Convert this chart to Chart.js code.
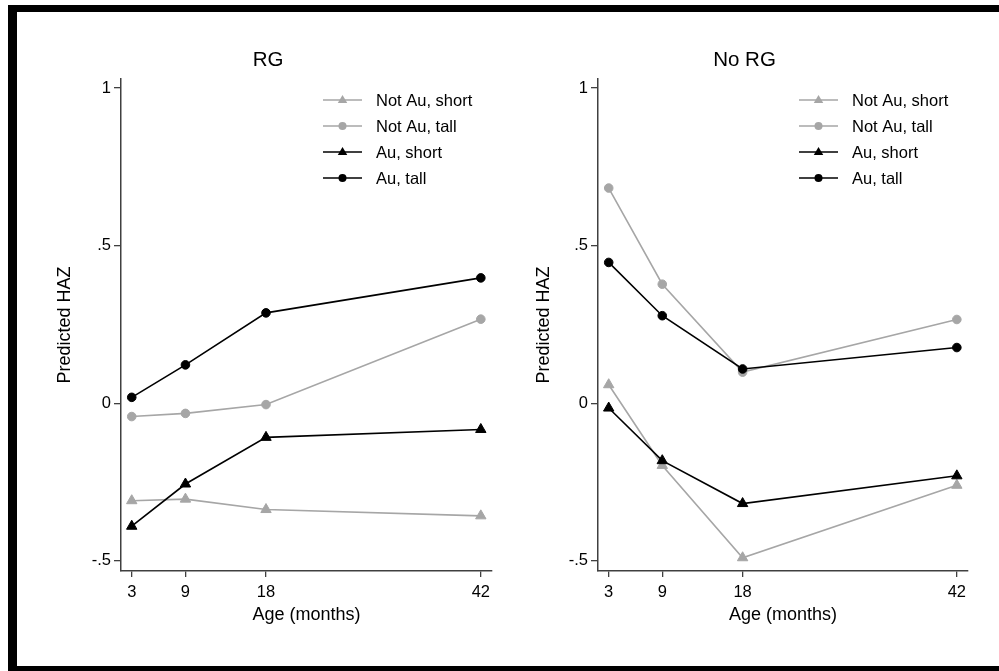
<!DOCTYPE html>
<html>
<head>
<meta charset="utf-8">
<script src="https://cdn.jsdelivr.net/npm/chart.js@4.4.1/dist/chart.umd.min.js"></script>
<style>
  html, body { margin: 0; padding: 0; background: #fff; overflow: hidden; }
  #frame {
    position: absolute; left: 8px; top: 5px; width: 1100px; height: 654px;
    border-left: 9px solid #000; border-top: 7px solid #000; border-bottom: 10px solid #000;
  }
  canvas { position: absolute; top: 0; }
</style>
</head>
<body>
<div id="frame"></div>
<canvas id="rg" width="500" height="671" style="left:0"></canvas>
<canvas id="norg" width="499" height="671" style="left:500px"></canvas>

<script>
// ---- data ----
const ages = [3, 9, 18, 42];
const seriesNames = ['Not Au, short', 'Not Au, tall', 'Au, short', 'Au, tall'];

const rgNotAuShort = [-0.309, -0.304, -0.337, -0.357];
const rgNotAuTall  = [-0.042, -0.032, -0.004, 0.267];
const rgAuShort    = [-0.390, -0.256, -0.108, -0.083];
const rgAuTall     = [0.019, 0.122, 0.287, 0.398];

const noRgNotAuShort = [0.059, -0.197, -0.490, -0.260];
const noRgNotAuTall  = [0.683, 0.378, 0.099, 0.266];
const noRgAuShort    = [-0.015, -0.182, -0.318, -0.230];
const noRgAuTall     = [0.447, 0.278, 0.109, 0.177];

const yTicks = [-0.5, 0, 0.5, 1];
const yTickLabels = ['-.5', '0', '.5', '1'];

// ---- style ----
const FONT = "'Liberation Sans', Arial, sans-serif";
const GREY = '#a6a6a6';
const BLACK = '#000000';
const AXIS = '#404040';

const seriesStyle = [
  { color: GREY,  point: 'triangle', r: 6.0, lr: 5.0, order: 2 },
  { color: GREY,  point: 'circle',   r: 4.3, lr: 4.0, order: 2 },
  { color: BLACK, point: 'triangle', r: 6.0, lr: 5.0, order: 1 },
  { color: BLACK, point: 'circle',   r: 4.3, lr: 4.0, order: 1 }
];

function marker(ctx, style, r, x, y) {
  ctx.beginPath();
  if (style === 'circle') {
    ctx.arc(x, y, r, 0, Math.PI * 2);
  } else {
    ctx.moveTo(x, y - r);
    ctx.lineTo(x + r * 0.95, y + r * 0.6);
    ctx.lineTo(x - r * 0.95, y + r * 0.6);
    ctx.closePath();
  }
  ctx.fill();
}

// title above the panel + legend inside the plot region
const panelDecor = {
  id: 'panelDecor',
  afterDraw(chart, args, opts) {
    const { ctx, chartArea } = chart;
    ctx.save();
    ctx.fillStyle = '#000';
    ctx.font = '20.5px ' + FONT;
    ctx.textAlign = 'center';
    ctx.textBaseline = 'middle';
    ctx.fillText(opts.title, (chartArea.left + chartArea.right) / 2 - 38.5, 60);

    const x0 = chartArea.right - 169;
    ctx.font = '16.5px ' + FONT;
    ctx.textAlign = 'left';
    seriesNames.forEach((name, i) => {
      const st = seriesStyle[i];
      const y = 100 + i * 26;
      ctx.strokeStyle = st.color;
      ctx.fillStyle = st.color;
      ctx.lineWidth = 1.6;
      ctx.beginPath();
      ctx.moveTo(x0, y);
      ctx.lineTo(x0 + 39, y);
      ctx.stroke();
      marker(ctx, st.point, st.lr, x0 + 19.5, y);
      ctx.fillStyle = '#000';
      ctx.fillText(name, x0 + 53, y + 1);
    });
    ctx.restore();
  }
};

function makePanel(canvasId, title, series, yWidth, yTitlePad, rightPad) {
  const datasets = series.map((vals, i) => {
    const st = seriesStyle[i];
    return {
      label: seriesNames[i],
      data: ages.map((a, j) => ({ x: a, y: vals[j] })),
      borderColor: st.color,
      backgroundColor: st.color,
      pointBackgroundColor: st.color,
      pointBorderColor: st.color,
      pointStyle: st.point,
      pointRadius: st.r,
      pointBorderWidth: 1,
      borderWidth: 1.6,
      tension: 0,
      order: st.order
    };
  });

  return new Chart(document.getElementById(canvasId), {
    type: 'line',
    data: { datasets: datasets },
    plugins: [panelDecor],
    options: {
      responsive: false,
      animation: false,
      layout: { padding: { top: 79, right: rightPad, left: 0, bottom: 0 } },
      plugins: {
        legend: { display: false },
        tooltip: { enabled: false },
        panelDecor: { title: title }
      },
      scales: {
        x: {
          type: 'linear',
          min: 1.8,
          max: 43.25,
          afterBuildTicks: s => { s.ticks = ages.map(v => ({ value: v })); },
          afterFit: s => { s.height = 100; },
          ticks: {
            color: '#000', autoSkip: false, maxRotation: 0, padding: 6,
            font: { family: FONT, size: 16.5 }
          },
          grid: { drawOnChartArea: false, tickLength: 6, color: AXIS, lineWidth: 1.3 },
          border: { color: AXIS, width: 1.5 },
          title: {
            display: true, text: 'Age (months)', color: '#000',
            font: { family: FONT, size: 18 },
            padding: { top: 0, bottom: 45 }
          }
        },
        y: {
          min: -0.532,
          max: 1.029,
          afterBuildTicks: s => { s.ticks = yTicks.map(v => ({ value: v })); },
          afterFit: s => { s.width = yWidth; },
          ticks: {
            color: '#000', padding: 3,
            font: { family: FONT, size: 16.5 },
            callback: v => yTickLabels[yTicks.indexOf(v)]
          },
          grid: { drawOnChartArea: false, tickLength: 7, color: AXIS, lineWidth: 1.3 },
          border: { color: AXIS, width: 1.5 },
          title: {
            display: true, text: 'Predicted HAZ', color: '#000',
            font: { family: FONT, size: 18 },
            padding: { top: yTitlePad, bottom: 0 }
          }
        }
      }
    }
  });
}

makePanel('rg', 'RG', [rgNotAuShort, rgNotAuTall, rgAuShort, rgAuTall], 121, 54, 8);
makePanel('norg', 'No RG', [noRgNotAuShort, noRgNotAuTall, noRgAuShort, noRgAuTall], 98, 33, 31);
</script>
</body>
</html>
